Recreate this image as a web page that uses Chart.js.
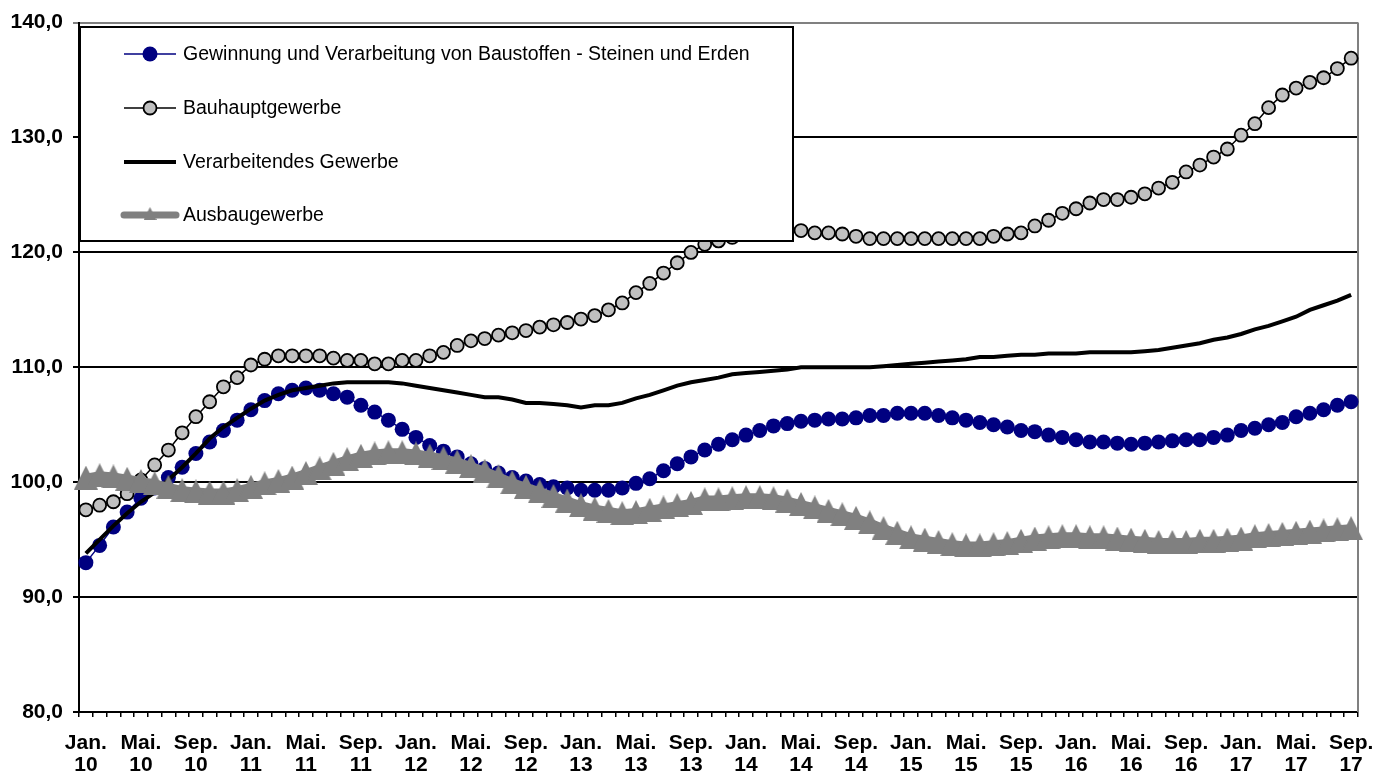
<!DOCTYPE html>
<html>
<head>
<meta charset="utf-8">
<script src="https://cdn.jsdelivr.net/npm/chart.js@4"></script>
<style>
  html, body { margin: 0; padding: 0; background: #fff; }
  #wrap { width: 1396px; height: 778px; position: relative; }
</style>
</head>
<body>
<div id="wrap"><canvas id="LineChart"></canvas></div>
<script>
const monthNames = ["Jan.", "Feb.", "Mär.", "Apr.", "Mai.", "Jun.", "Jul.", "Aug.", "Sep.", "Okt.", "Nov.", "Dez."];
const years = ["10", "11", "12", "13", "14", "15", "16", "17"];
const lastMonth = 8; // Sep. 17

const seriesNames = [
  "Gewinnung und Verarbeitung von Baustoffen - Steinen und Erden",
  "Bauhauptgewerbe",
  "Verarbeitendes Gewerbe",
  "Ausbaugewerbe",
];

const gewinnung = [
  93.0, 94.5, 96.1, 97.4, 98.6, 99.5, 100.4, 101.3, 102.5, 103.5,
  104.5, 105.4, 106.3, 107.1, 107.7, 108.0, 108.2, 108.0, 107.7, 107.4,
  106.7, 106.1, 105.4, 104.6, 103.9, 103.2, 102.7, 102.2, 101.6, 101.2,
  100.8, 100.4, 100.1, 99.8, 99.6, 99.5, 99.3, 99.3, 99.3, 99.5,
  99.9, 100.3, 101.0, 101.6, 102.2, 102.8, 103.3, 103.7, 104.1, 104.5,
  104.9, 105.1, 105.3, 105.4, 105.5, 105.5, 105.6, 105.8, 105.8, 106.0,
  106.0, 106.0, 105.8, 105.6, 105.4, 105.2, 105.0, 104.8, 104.5, 104.4,
  104.1, 103.9, 103.7, 103.5, 103.5, 103.4, 103.3, 103.4, 103.5, 103.6,
  103.7, 103.7, 103.9, 104.1, 104.5, 104.7, 105.0, 105.2, 105.7, 106.0,
  106.3, 106.7, 107.0,
];

const bauhaupt = [
  97.6, 98.0, 98.3, 99.0, 100.2, 101.5, 102.8, 104.3, 105.7, 107.0,
  108.3, 109.1, 110.2, 110.7, 111.0, 111.0, 111.0, 111.0, 110.8, 110.6,
  110.6, 110.3, 110.3, 110.6, 110.6, 111.0, 111.3, 111.9, 112.3, 112.5,
  112.8, 113.0, 113.2, 113.5, 113.7, 113.9, 114.2, 114.5, 115.0, 115.6,
  116.5, 117.3, 118.2, 119.1, 120.0, 120.7, 121.0, 121.3, 121.6, 121.8,
  122.0, 122.0, 121.9, 121.7, 121.7, 121.6, 121.4, 121.2, 121.2, 121.2,
  121.2, 121.2, 121.2, 121.2, 121.2, 121.2, 121.4, 121.6, 121.7, 122.3,
  122.8, 123.4, 123.8, 124.3, 124.6, 124.6, 124.8, 125.1, 125.6, 126.1,
  127.0, 127.6, 128.3, 129.0, 130.2, 131.2, 132.6, 133.7, 134.3, 134.8,
  135.2, 136.0, 136.9,
];

const verarbeitend = [
  93.8, 95.0, 96.2, 97.3, 98.3, 99.1, 100.2, 101.3, 102.5, 103.8,
  104.8, 105.6, 106.4, 107.1, 107.6, 108.0, 108.2, 108.4, 108.6, 108.7,
  108.7, 108.7, 108.7, 108.6, 108.4, 108.2, 108.0, 107.8, 107.6, 107.4,
  107.4, 107.2, 106.9, 106.9, 106.8, 106.7, 106.5, 106.7, 106.7, 106.9,
  107.3, 107.6, 108.0, 108.4, 108.7, 108.9, 109.1, 109.4, 109.5, 109.6,
  109.7, 109.8, 110.0, 110.0, 110.0, 110.0, 110.0, 110.0, 110.1, 110.2,
  110.3, 110.4, 110.5, 110.6, 110.7, 110.9, 110.9, 111.0, 111.1, 111.1,
  111.2, 111.2, 111.2, 111.3, 111.3, 111.3, 111.3, 111.4, 111.5, 111.7,
  111.9, 112.1, 112.4, 112.6, 112.9, 113.3, 113.6, 114.0, 114.4, 115.0,
  115.4, 115.8, 116.3,
];

const ausbau = [
  100.4, 100.6, 100.5, 100.3, 100.1, 99.9, 99.6, 99.3, 99.2, 99.1,
  99.1, 99.3, 99.6, 99.9, 100.1, 100.4, 100.8, 101.2, 101.6, 102.0,
  102.3, 102.5, 102.6, 102.6, 102.5, 102.3, 102.1, 101.8, 101.4, 101.0,
  100.5, 100.0, 99.6, 99.2, 98.8, 98.4, 98.0, 97.7, 97.5, 97.3,
  97.4, 97.6, 97.8, 98.0, 98.2, 98.5, 98.5, 98.6, 98.7, 98.7,
  98.6, 98.4, 98.1, 97.8, 97.5, 97.2, 96.9, 96.5, 96.0, 95.6,
  95.2, 95.0, 94.8, 94.6, 94.5, 94.5, 94.6, 94.7, 94.9, 95.1,
  95.2, 95.3, 95.3, 95.2, 95.2, 95.1, 95.0, 94.9, 94.8, 94.8,
  94.8, 94.9, 94.9, 95.0, 95.1, 95.3, 95.4, 95.5, 95.6, 95.7,
  95.8, 95.9, 96.0,
];

const yMin = 80;
const yMax = 140;
const yStep = 10;

// month labels, two lines each: ["Jan.", "10"]
const categories = [];
years.forEach((yr, yi) => {
  monthNames.forEach((m, mi) => {
    if (yi === years.length - 1 && mi > lastMonth) return;
    categories.push([m, yr]);
  });
});

const FONT = "'Liberation Sans', Arial, sans-serif";

// Excel-like triangle marker: centred on its box, not on its centroid
const makeTriangle = (size, color) => {
  const c = document.createElement("canvas");
  c.width = size;
  c.height = size;
  const t = c.getContext("2d");
  t.fillStyle = color;
  t.beginPath();
  t.moveTo(size / 2, 0);
  t.lineTo(size, size);
  t.lineTo(0, size);
  t.closePath();
  t.fill();
  return c;
};
const triangleBig = makeTriangle(24, "#808080");
const triangleSmall = makeTriangle(13, "#808080");

// Legend drawn as a framed box inside the plot, like the original
const boxLegend = {
  id: "boxLegend",
  afterDraw(chart) {
    const ctx = chart.ctx;
    const x0 = 80, y0 = 27, x1 = 793, y1 = 241;
    ctx.save();
    ctx.fillStyle = "#fff";
    ctx.fillRect(x0, y0, x1 - x0, y1 - y0);
    ctx.strokeStyle = "#000";
    ctx.lineWidth = 2;
    ctx.strokeRect(x0, y0, x1 - x0, y1 - y0);

    const rows = [54, 108, 162, 215];
    chart.data.datasets.forEach((ds, i) => {
      const y = rows[i];
      ctx.beginPath();
      ctx.moveTo(124, y);
      ctx.lineTo(176, y);
      ctx.strokeStyle = ds.borderColor;
      ctx.lineWidth = Math.min(ds.borderWidth, 7);
      ctx.lineCap = ds.borderWidth > 5 ? "round" : "butt";
      ctx.stroke();
      if (typeof ds.pointStyle === "object") {
        ctx.drawImage(triangleSmall, 150 - 6.5, y - 8);
      } else if (ds.pointRadius > 0) {
        ctx.beginPath();
        ctx.arc(150, y, ds.pointRadius, 0, Math.PI * 2);
        ctx.fillStyle = ds.pointBackgroundColor;
        ctx.fill();
        if (ds.pointBorderWidth > 0) {
          ctx.strokeStyle = ds.pointBorderColor;
          ctx.lineWidth = ds.pointBorderWidth;
          ctx.stroke();
        }
      }
      ctx.fillStyle = "#000";
      ctx.font = "19.5px " + FONT;
      ctx.textBaseline = "middle";
      ctx.textAlign = "left";
      ctx.fillText(ds.label, 183, y + 1);
    });
    ctx.restore();
  },
};

// grey frame on the right side of the plot area
const rightFrame = {
  id: "rightFrame",
  beforeDatasetsDraw(chart) {
    const { ctx, chartArea } = chart;
    ctx.save();
    ctx.strokeStyle = "#808080";
    ctx.lineWidth = 2;
    ctx.beginPath();
    ctx.moveTo(chartArea.right, chartArea.top);
    ctx.lineTo(chartArea.right, chartArea.bottom);
    ctx.stroke();
    ctx.restore();
  },
};

const ctx = document.getElementById("LineChart").getContext("2d");

new Chart(ctx, {
  type: "line",
  data: {
    labels: categories,
    datasets: [
      {
        label: seriesNames[0],
        data: gewinnung,
        borderColor: "#000080",
        borderWidth: 1.5,
        pointStyle: "circle",
        pointRadius: 7.5,
        pointBackgroundColor: "#000080",
        pointBorderColor: "#000080",
        pointBorderWidth: 0,
        order: 4,
      },
      {
        label: seriesNames[1],
        data: bauhaupt,
        borderColor: "#000",
        borderWidth: 1.5,
        pointStyle: "circle",
        pointRadius: 6.5,
        pointBackgroundColor: "#c0c0c0",
        pointBorderColor: "#000",
        pointBorderWidth: 1.8,
        order: 3,
      },
      {
        label: seriesNames[2],
        data: verarbeitend,
        borderColor: "#000",
        borderWidth: 4,
        pointRadius: 0,
        pointBorderWidth: 0,
        order: 2,
      },
      {
        label: seriesNames[3],
        data: ausbau,
        borderColor: "#808080",
        borderWidth: 8,
        pointStyle: triangleBig,
        pointRadius: 12,
        pointBackgroundColor: "#808080",
        pointBorderColor: "#808080",
        pointBorderWidth: 0,
        order: 1,
      },
    ],
  },
  options: {
    responsive: true,
    maintainAspectRatio: false,
    animation: false,
    devicePixelRatio: 1,
    layout: { padding: { left: 0, right: 38, top: 22, bottom: 0 } },
    elements: { line: { tension: 0 } },
    datasets: { line: { clip: false } },
    plugins: {
      legend: { display: false },
      tooltip: { enabled: false },
    },
    scales: {
      x: {
        offset: true,
        afterFit: (s) => { s.height = 66; },
        border: { color: "#000", width: 2 },
        grid: {
          offset: true,
          drawOnChartArea: false,
          drawTicks: true,
          tickLength: 5,
          color: "#000",
          lineWidth: 1.5,
        },
        ticks: {
          autoSkip: false,
          maxRotation: 0,
          minRotation: 0,
          padding: 15,
          color: "#000",
          font: { family: FONT, size: 21, weight: "bold", lineHeight: 1.05 },
          callback: (val, idx) => (idx % 4 === 0 ? categories[idx] : ""),
        },
      },
      y: {
        min: yMin,
        max: yMax,
        afterFit: (s) => { s.width = 79; },
        border: { color: "#000", width: 2 },
        grid: {
          color: (c) => (c.tick && c.tick.value === yMax ? "#808080" : "#000"),
          lineWidth: 2,
          drawTicks: true,
          tickLength: 6,
        },
        ticks: {
          stepSize: yStep,
          padding: 10,
          color: "#000",
          font: { family: FONT, size: 21, weight: "bold" },
          callback: (v) => v.toFixed(1).replace(".", ","),
        },
      },
    },
  },
  plugins: [rightFrame, boxLegend],
});
</script>
</body>
</html>
